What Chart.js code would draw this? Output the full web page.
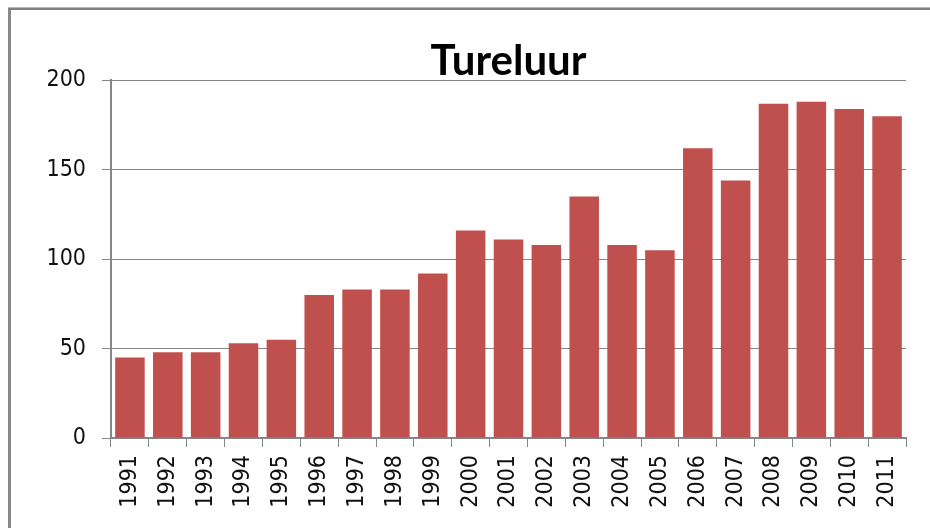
<!DOCTYPE html>
<html>
<head>
<meta charset="utf-8">
<script src="https://cdn.jsdelivr.net/npm/chart.js@4/dist/chart.umd.min.js"></script>
<style>
  html, body { margin: 0; padding: 0; background: #fff; }
  #wrap { position: relative; width: 930px; height: 528px; overflow: hidden; }
  #frame { position: absolute; left: 8px; top: 8px; width: 940px; height: 540px;
           border-left: 3px solid #888; border-top: 2px solid #808080;
           box-shadow: 0 -1px 0 #b8b8b8; pointer-events: none; }
  canvas { position: absolute; left: 0; top: 0; }
</style>
</head>
<body>
<div id="wrap">
  <canvas id="c" width="930" height="528"></canvas>
  <div id="frame"></div>
</div>
<script>
const titleText = "Tureluur";
const years = ["1991","1992","1993","1994","1995","1996","1997","1998","1999","2000",
               "2001","2002","2003","2004","2005","2006","2007","2008","2009","2010","2011"];
const counts = [45, 48, 48, 53, 55, 80, 83, 83, 92, 116,
                111, 108, 135, 108, 105, 162, 144, 187, 188, 184, 180];
const yMin = 0;
const yMax = 200;
const yStep = 50;

const tickFont = { family: "'DejaVu Sans Condensed', 'Liberation Sans', sans-serif", size: 23 };
const gridGray = '#868686';

new Chart(document.getElementById('c'), {
  type: 'bar',
  data: {
    labels: years,
    datasets: [{
      label: titleText,
      data: counts,
      backgroundColor: '#C0504D',
      borderWidth: 0,
      categoryPercentage: 0.78,
      barPercentage: 1.0
    }]
  },
  options: {
    responsive: false,
    animation: false,
    devicePixelRatio: 1,
    layout: { padding: { top: 36, right: 24, bottom: 0, left: 0 } },
    plugins: {
      legend: { display: false },
      tooltip: { enabled: false },
      title: {
        display: true,
        text: titleText,
        fullSize: false,
        color: '#000',
        font: { family: "Lato, 'Open Sans', sans-serif", size: 42, weight: 'bold', lineHeight: 1.2 },
        padding: { top: 0, bottom: -6 }
      }
    },
    scales: {
      x: {
        grid: { drawOnChartArea: false, drawTicks: true, tickLength: 9, color: gridGray, lineWidth: 1, offset: true },
        border: { display: true, color: gridGray, width: 2 },
        ticks: { color: '#111', font: tickFont, minRotation: 90, maxRotation: 90, padding: 8, autoSkip: false },
        afterFit: (s) => { s.height = 90; }
      },
      y: {
        min: yMin,
        max: yMax,
        ticks: { stepSize: yStep, color: '#111', font: tickFont, padding: 16 },
        grid: { color: gridGray, lineWidth: 1, tickLength: 9, drawTicks: true },
        border: { display: true, color: gridGray, width: 2 },
        afterFit: (s) => { s.width = 111; }
      }
    }
  }
});
</script>
</body>
</html>
